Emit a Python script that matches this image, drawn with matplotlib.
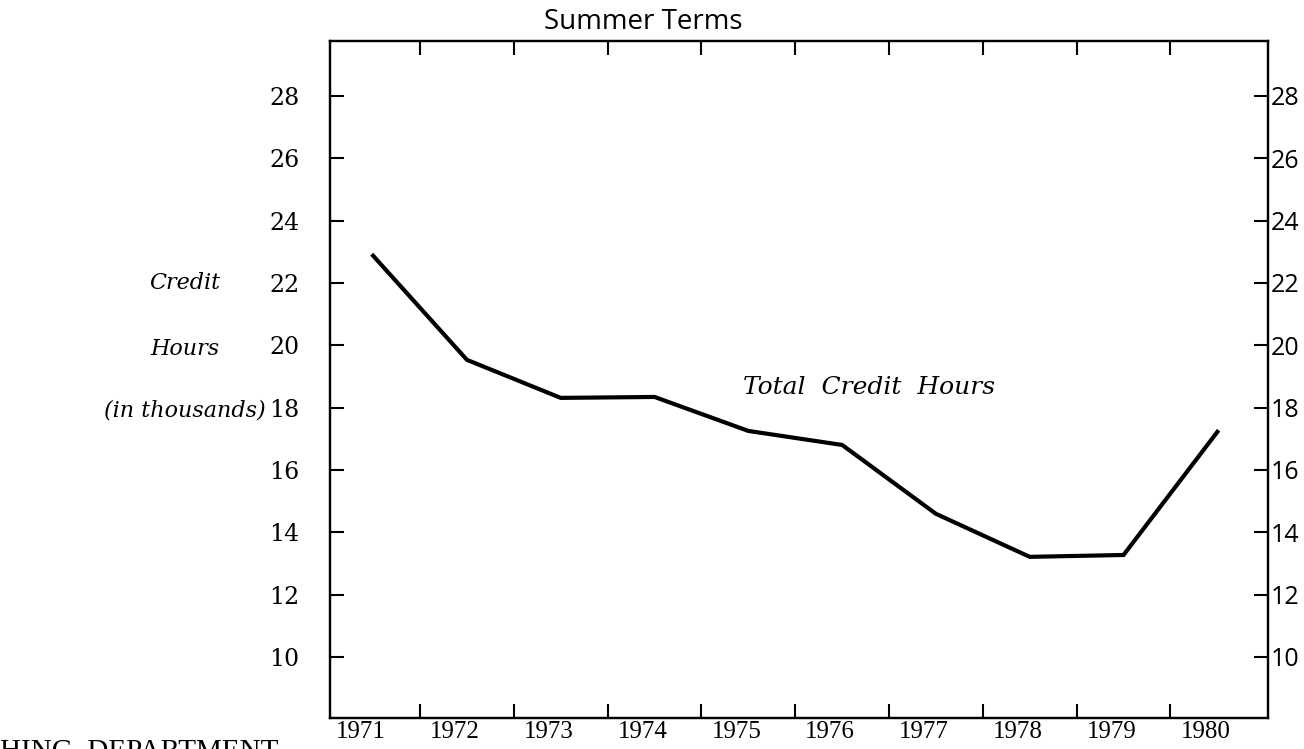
import matplotlib
matplotlib.use('Agg')
import matplotlib.pyplot as plt
from matplotlib.transforms import ScaledTranslation

years = ['1971', '1972', '1973', '1974', '1975', '1976', '1977', '1978', '1979', '1980']
credit_hours = [22.87, 19.53, 18.31, 18.34, 17.25, 16.8, 14.59, 13.21, 13.27, 17.22]
y_ticks = [10, 12, 14, 16, 18, 20, 22, 24, 26, 28]

W, H = 1304, 749
fig = plt.figure(figsize=(W / 100, H / 100), dpi=100)
ax = fig.add_axes([330 / W, 1 - 718 / H, 938 / W, 677 / H])

x = list(range(len(years)))
ax.plot(x, credit_hours, color='black', lw=3, solid_joinstyle='miter')

ax.set_xlim(-0.46, 9.54)
ax.set_ylim(8.04, 29.76)

for s in ax.spines.values():
    s.set_linewidth(1.6)

# year labels sit under the points, tick marks fall between them
ax.set_xticks(x)
ax.set_xticklabels(years, family='Liberation Serif', fontsize=18)
ax.set_xticks([i + 0.5 for i in x[:-1]], minor=True)
ax.tick_params(axis='x', which='major', length=0, pad=2)
ax.tick_params(axis='x', which='minor', direction='in', length=10, width=1.5,
               top=True, bottom=True)
shift = ScaledTranslation(-12 / 100, 0, fig.dpi_scale_trans)
for lbl in ax.get_xticklabels():
    lbl.set_transform(lbl.get_transform() + shift)

ax.set_yticks(y_ticks)
ax.set_yticklabels([str(v) for v in y_ticks], family='DejaVu Serif', fontsize=17)
ax.tick_params(axis='y', direction='in', length=10, width=1.5, pad=22)

ax2 = ax.twinx()
ax2.set_ylim(ax.get_ylim())
ax2.set_yticks(y_ticks)
ax2.set_yticklabels([str(v) for v in y_ticks], family='Open Sans', fontsize=18)
ax2.tick_params(axis='y', direction='in', length=10, width=1.5, pad=2)
for s in ax2.spines.values():
    s.set_linewidth(1.6)

fig.text(643 / W, 1 - 22 / H, 'Summer Terms', family='Open Sans', fontsize=20,
         ha='center', va='center')
fig.text(869 / W, 1 - 388 / H, 'Total  Credit  Hours', family='DejaVu Serif',
         style='italic', fontsize=18, ha='center', va='center')

for label, ypx in [('Credit', 283), ('Hours', 349), ('(in thousands)', 410)]:
    fig.text(185 / W, 1 - ypx / H, label, family='DejaVu Serif', style='italic',
             fontsize=16, ha='center', va='center')

fig.text(0, 1 - 739 / H, 'HING  DEPARTMENT', family='Liberation Serif', fontsize=21,
         ha='left', va='top')

fig.savefig('out.png', dpi=100)
